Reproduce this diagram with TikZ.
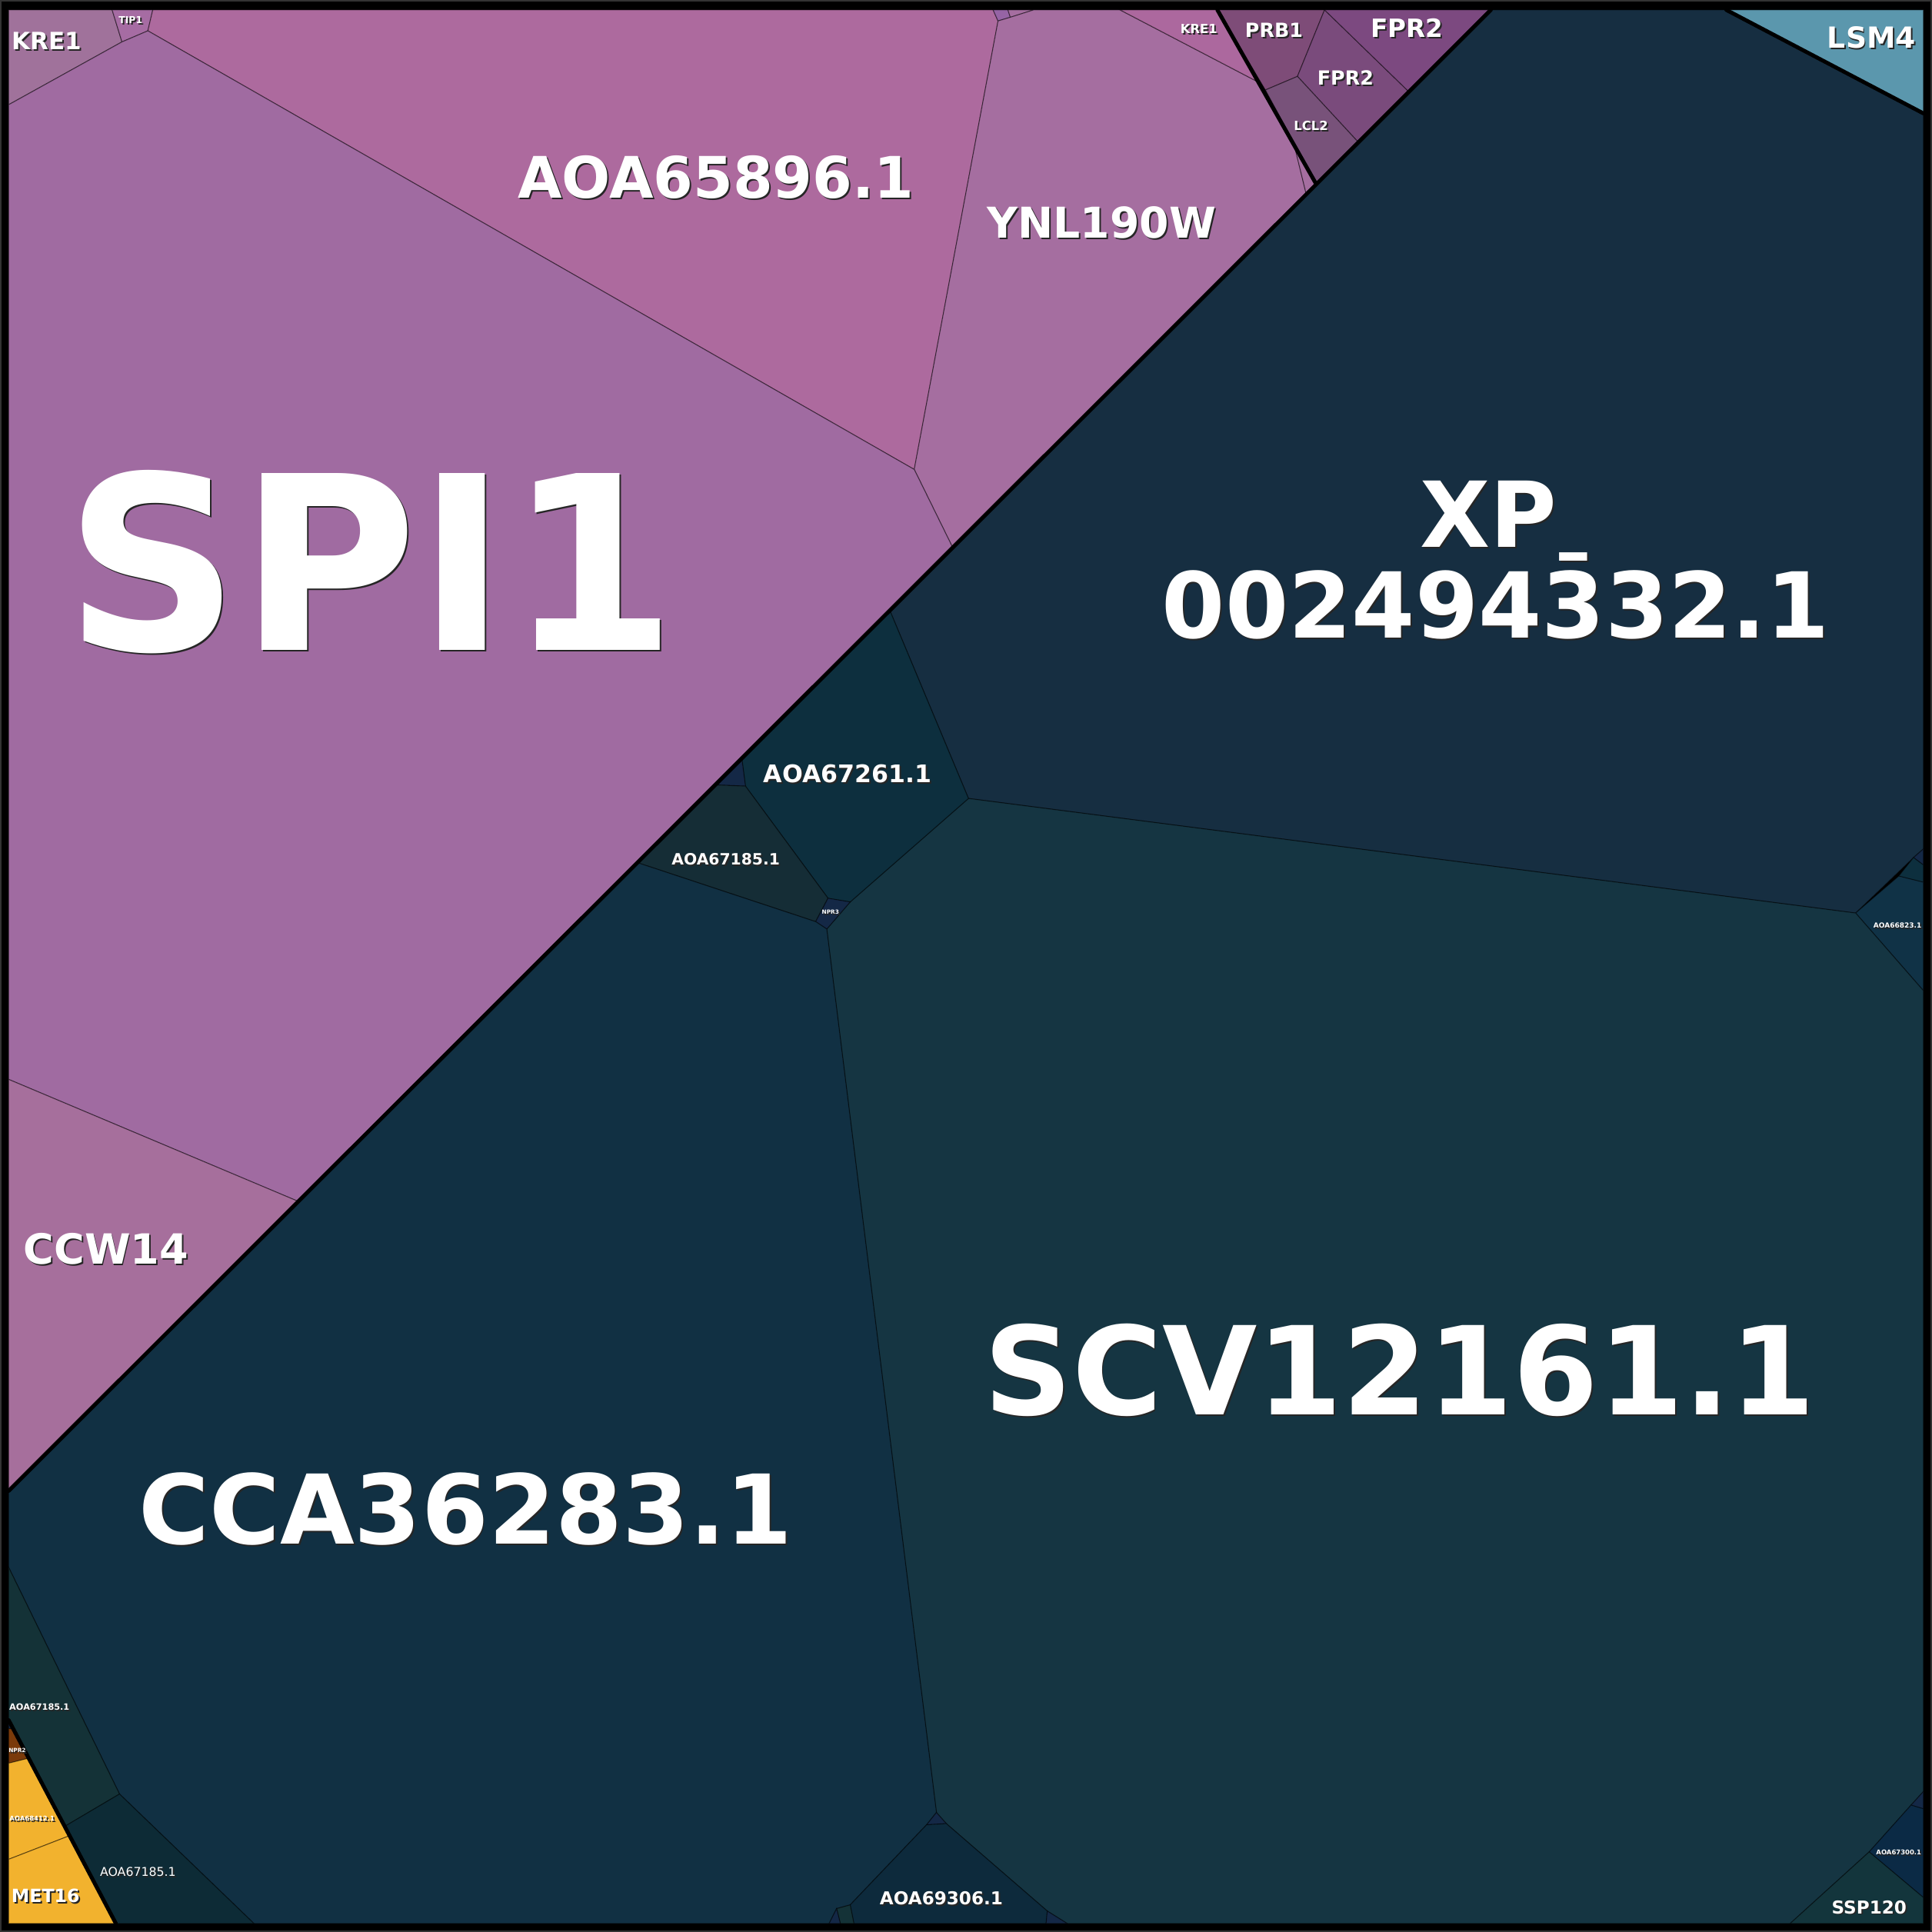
\documentclass[tikz,border=0pt]{standalone}
\usepackage{fontspec}
\setmainfont{DejaVu Sans}
% dark drop shadow behind a white label
\newcommand\shd[1]{\leavevmode\rlap{\kern.35pt\raisebox{-.35pt}{\color{black!85}#1}}#1}
\definecolor{spiC}{RGB}{160,107,161}
\definecolor{aoaC}{RGB}{173,106,158}
\definecolor{ynlC}{RGB}{165,110,160}
\definecolor{kreC}{RGB}{160,114,155}
\definecolor{kreD}{RGB}{172,104,158}
\definecolor{tipC}{RGB}{166,108,163}
\definecolor{ccwC}{RGB}{166,111,156}
\definecolor{floC}{RGB}{150,100,165}
\definecolor{prbC}{RGB}{126,76,120}
\definecolor{fprC}{RGB}{122,75,124}
\definecolor{fprD}{RGB}{124,73,128}
\definecolor{lclC}{RGB}{120,82,122}
\definecolor{lsmC}{RGB}{91,151,173}
\definecolor{xpC}{RGB}{22,46,65}
\definecolor{scvC}{RGB}{21,53,66}
\definecolor{ccaC}{RGB}{17,48,67}
\definecolor{tealA}{RGB}{13,47,62}
\definecolor{tealB}{RGB}{21,45,54}
\definecolor{tealC}{RGB}{13,42,60}
\definecolor{tealD}{RGB}{20,50,55}
\definecolor{tealE}{RGB}{13,43,54}
\definecolor{navyA}{RGB}{16,50,70}
\definecolor{navyB}{RGB}{11,42,69}
\definecolor{navyC}{RGB}{20,40,70}
\definecolor{sspC}{RGB}{19,53,60}
\definecolor{metC}{RGB}{242,178,46}
\definecolor{nprC}{RGB}{122,58,10}
\begin{document}
\begin{tikzpicture}[x=0.01cm, y=-0.01cm,
    cell/.style={draw=black, draw opacity=.45, line width=.2pt},
    group/.style={line width=.9pt, line cap=round},
    lbl/.style={text=white, inner sep=0pt, anchor=base, font=\fontsize{#1pt}{#1pt}\selectfont\bfseries},
    lblthin/.style={text=white, inner sep=0pt, anchor=base, font=\fontsize{#1pt}{#1pt}\selectfont}]
    \useasboundingbox (0,0) rectangle (1568,1568);
    \fill[black] (0,0) rectangle (1568,1568);
    \draw[gray!40!black, line width=.4pt] (.5,.5) rectangle (1567.5,1567.5);

    % upper left group
    \filldraw[cell, fill=kreC] (7,8) -- (91,8) -- (99,34) -- (7,85) -- cycle;
    \filldraw[cell, fill=tipC] (91,8) -- (124,8) -- (120,25) -- (99,34) -- cycle;
    \filldraw[cell, fill=aoaC] (124,8) -- (806,8) -- (810,17) -- (742,381) -- (120,25) -- cycle;
    \filldraw[cell, fill=floC] (806,8) -- (818,8) -- (820,14) -- (810,17) -- cycle;
    \filldraw[cell, fill=ynlC] (818,8) -- (839,8) -- (820,14) -- cycle;
    \filldraw[cell, fill=ynlC] (839,8) -- (909,8) -- (1022,67) -- (1050,116) -- (1060,157) -- (773,444) -- (742,381) -- (810,17) -- (820,14) -- cycle;
    \filldraw[cell, fill=ynlC] (1050,116) -- (1068,149) -- (1060,157) -- cycle;
    \filldraw[cell, fill=kreD] (909,8) -- (988,8) -- (1022,67) -- cycle;
    \filldraw[cell, fill=spiC] (7,85) -- (99,34) -- (120,25) -- (742,381) -- (773,444) -- (242,975) -- (7,876) -- cycle;
    \filldraw[cell, fill=ccwC] (7,876) -- (242,975) -- (7,1210) -- cycle;
    \filldraw[cell, fill=prbC] (988,8) -- (1075,8) -- (1053,62) -- (1027,73) -- cycle;
    \filldraw[cell, fill=fprC] (1075,8) -- (1143,74) -- (1102,115) -- (1053,62) -- cycle;
    \filldraw[cell, fill=fprD] (1075,8) -- (1210,8) -- (1143,74) -- cycle;
    \filldraw[cell, fill=lclC] (1027,73) -- (1053,62) -- (1102,115) -- (1068,149) -- cycle;
    \filldraw[cell, fill=lsmC] (1401,8) -- (1561,8) -- (1561,92) -- cycle;

    % lower right group
    \filldraw[cell, fill=xpC] (1210,8) -- (1401,8) -- (1561,92) -- (1561,689) -- (1553,696) -- (1506,741) -- (786,648) -- (722,495) -- cycle;
    \filldraw[cell, fill=navyC] (1553,696) -- (1561,689) -- (1561,702) -- cycle;
    \filldraw[cell, fill=tealA] (1541,711) -- (1553,696) -- (1561,702) -- (1561,716) -- cycle;
    \filldraw[cell, fill=navyA] (1506,741) -- (1541,711) -- (1561,716) -- (1561,804) -- cycle;
    \filldraw[cell, fill=scvC] (786,648) -- (1506,741) -- (1561,804) -- (1561,1454) -- (1551,1465) -- (1517,1503) -- (1453,1561) -- (866,1561) -- (850,1551) -- (768,1480) -- (760,1471) -- (671,754) -- (690,732) -- cycle;
    \filldraw[cell, fill=navyC] (1551,1465) -- (1561,1454) -- (1561,1468) -- cycle;
    \filldraw[cell, fill=navyB] (1517,1503) -- (1551,1465) -- (1561,1468) -- (1561,1540) -- cycle;
    \filldraw[cell, fill=sspC] (1517,1503) -- (1561,1540) -- (1561,1561) -- (1453,1561) -- cycle;
    \filldraw[cell, fill=tealA] (722,495) -- (786,648) -- (690,732) -- (672,729) -- (605,638) -- (602,615) -- cycle;
    \filldraw[cell, fill=navyC] (602,615) -- (605,638) -- (580,637) -- cycle;
    \filldraw[cell, fill=tealB] (580,637) -- (605,638) -- (672,729) -- (662,748) -- (517,700) -- cycle;
    \filldraw[cell, fill=navyC] (672,729) -- (690,732) -- (671,754) -- (662,748) -- cycle;
    \filldraw[cell, fill=ccaC] (517,700) -- (662,748) -- (671,754) -- (760,1471) -- (752,1481) -- (690,1546) -- (679,1549) -- (673,1561) -- (206,1561) -- (97,1456) -- (7,1272) -- (7,1210) -- cycle;
    \filldraw[cell, fill=navyC] (752,1481) -- (760,1471) -- (768,1480) -- cycle;
    \filldraw[cell, fill=tealC] (752,1481) -- (768,1480) -- (850,1551) -- (849,1561) -- (693,1561) -- (690,1546) -- cycle;
    \filldraw[cell, fill=tealD] (679,1549) -- (690,1546) -- (693,1561) -- (682,1561) -- cycle;
    \filldraw[cell, fill=navyC] (673,1561) -- (679,1549) -- (682,1561) -- cycle;
    \filldraw[cell, fill=navyC] (850,1551) -- (866,1561) -- (849,1561) -- cycle;
    \filldraw[cell, fill=tealD] (7,1272) -- (97,1456) -- (53,1482) -- (7,1396) -- cycle;
    \filldraw[cell, fill=tealE] (53,1482) -- (97,1456) -- (206,1561) -- (94,1561) -- cycle;

    % lower left group
    \filldraw[cell, fill=navyC] (7,1396) -- (11,1403) -- (7,1403) -- cycle;
    \filldraw[cell, fill=nprC] (7,1403) -- (11,1403) -- (23,1427) -- (7,1431) -- cycle;
    \filldraw[cell, fill=metC] (7,1431) -- (23,1427) -- (56,1490) -- (7,1509) -- cycle;
    \filldraw[cell, fill=metC] (7,1509) -- (56,1490) -- (94,1561) -- (7,1561) -- cycle;

    % group borders
    \draw[group] (1210,8) -- (7,1210);
    \draw[group] (988,8) -- (1068,149);
    \draw[group] (1401,8) -- (1561,92);
    \draw[group] (7,1396) -- (94,1561);

    % labels
    \node[lbl=5.5] (kreA) at (38,40) {\shd{KRE1}};
    \node[lbl=2.2] (tip) at (106,19) {\shd{TIP1}};
    \node[lbl=13.2] (aoaA) at (581,161) {\shd{AOA65896.1}};
    \node[lbl=9.8] (ynl) at (894,193) {\shd{YNL190W}};
    \node[lbl=2.9] (kreB) at (973,27) {\shd{KRE1}};
    \node[lbl=4.5] (prb) at (1034,30) {\shd{PRB1}};
    \node[lbl=5.8] (fprA) at (1142,30) {\shd{FPR2}};
    \node[lbl=4.5] (fprB) at (1092,69) {\shd{FPR2}};
    \node[lbl=2.9] (lcl) at (1064,106) {\shd{LCL2}};
    \node[lbl=6.7] (lsm) at (1519,39) {\shd{LSM4}};
    \node[lbl=56] (spi) at (301,528) {\shd{SPI1}};
    \node[lbl=9.6] (ccw) at (86,1026) {\shd{CCW14}};
    \node[lbl=21] (xpA) at (1208,444) {\shd{XP}};
    \node[lbl=21] (xpB) at (1214,518) {\shd{0024943^^^^030432.1}};
    \node[lbl=5.6] (aoaB) at (688,635) {\shd{AOA67261.1}};
    \node[lbl=3.6] (aoaC) at (589,702) {\shd{AOA67185.1}};
    \node[lbl=1.3] (npr3) at (674,742) {\shd{NPR3}};
    \node[lbl=28.3] (scv) at (1136,1148) {\shd{SCV12161.1}};
    \node[lbl=22.2] (cca) at (378,1253) {\shd{CCA36283.1}};
    \node[lbl=4.1] (aoaD) at (764,1546) {\shd{AOA69306.1}};
    \node[lbl=1.6] (aoaE) at (1540,753) {\shd{AOA66823.1}};
    \node[lbl=1.5] (aoaF) at (1541,1505) {\shd{AOA67300.1}};
    \node[lbl=4.1] (ssp) at (1517,1553) {\shd{SSP120}};
    \node[lbl=2] (aoaG) at (32,1388) {\shd{AOA67185.1}};
    \node[lbl=1.3] (npr2) at (14,1422) {\shd{NPR2}};
    \node[lbl=1.5] (aoaH) at (26,1478) {\shd{AOA68412.1}};
    \node[lblthin=2.8] (aoaI) at (112,1523) {\shd{AOA67185.1}};
    \node[lbl=4.2] (met) at (37,1544) {\shd{MET16}};
\end{tikzpicture}
\end{document}
